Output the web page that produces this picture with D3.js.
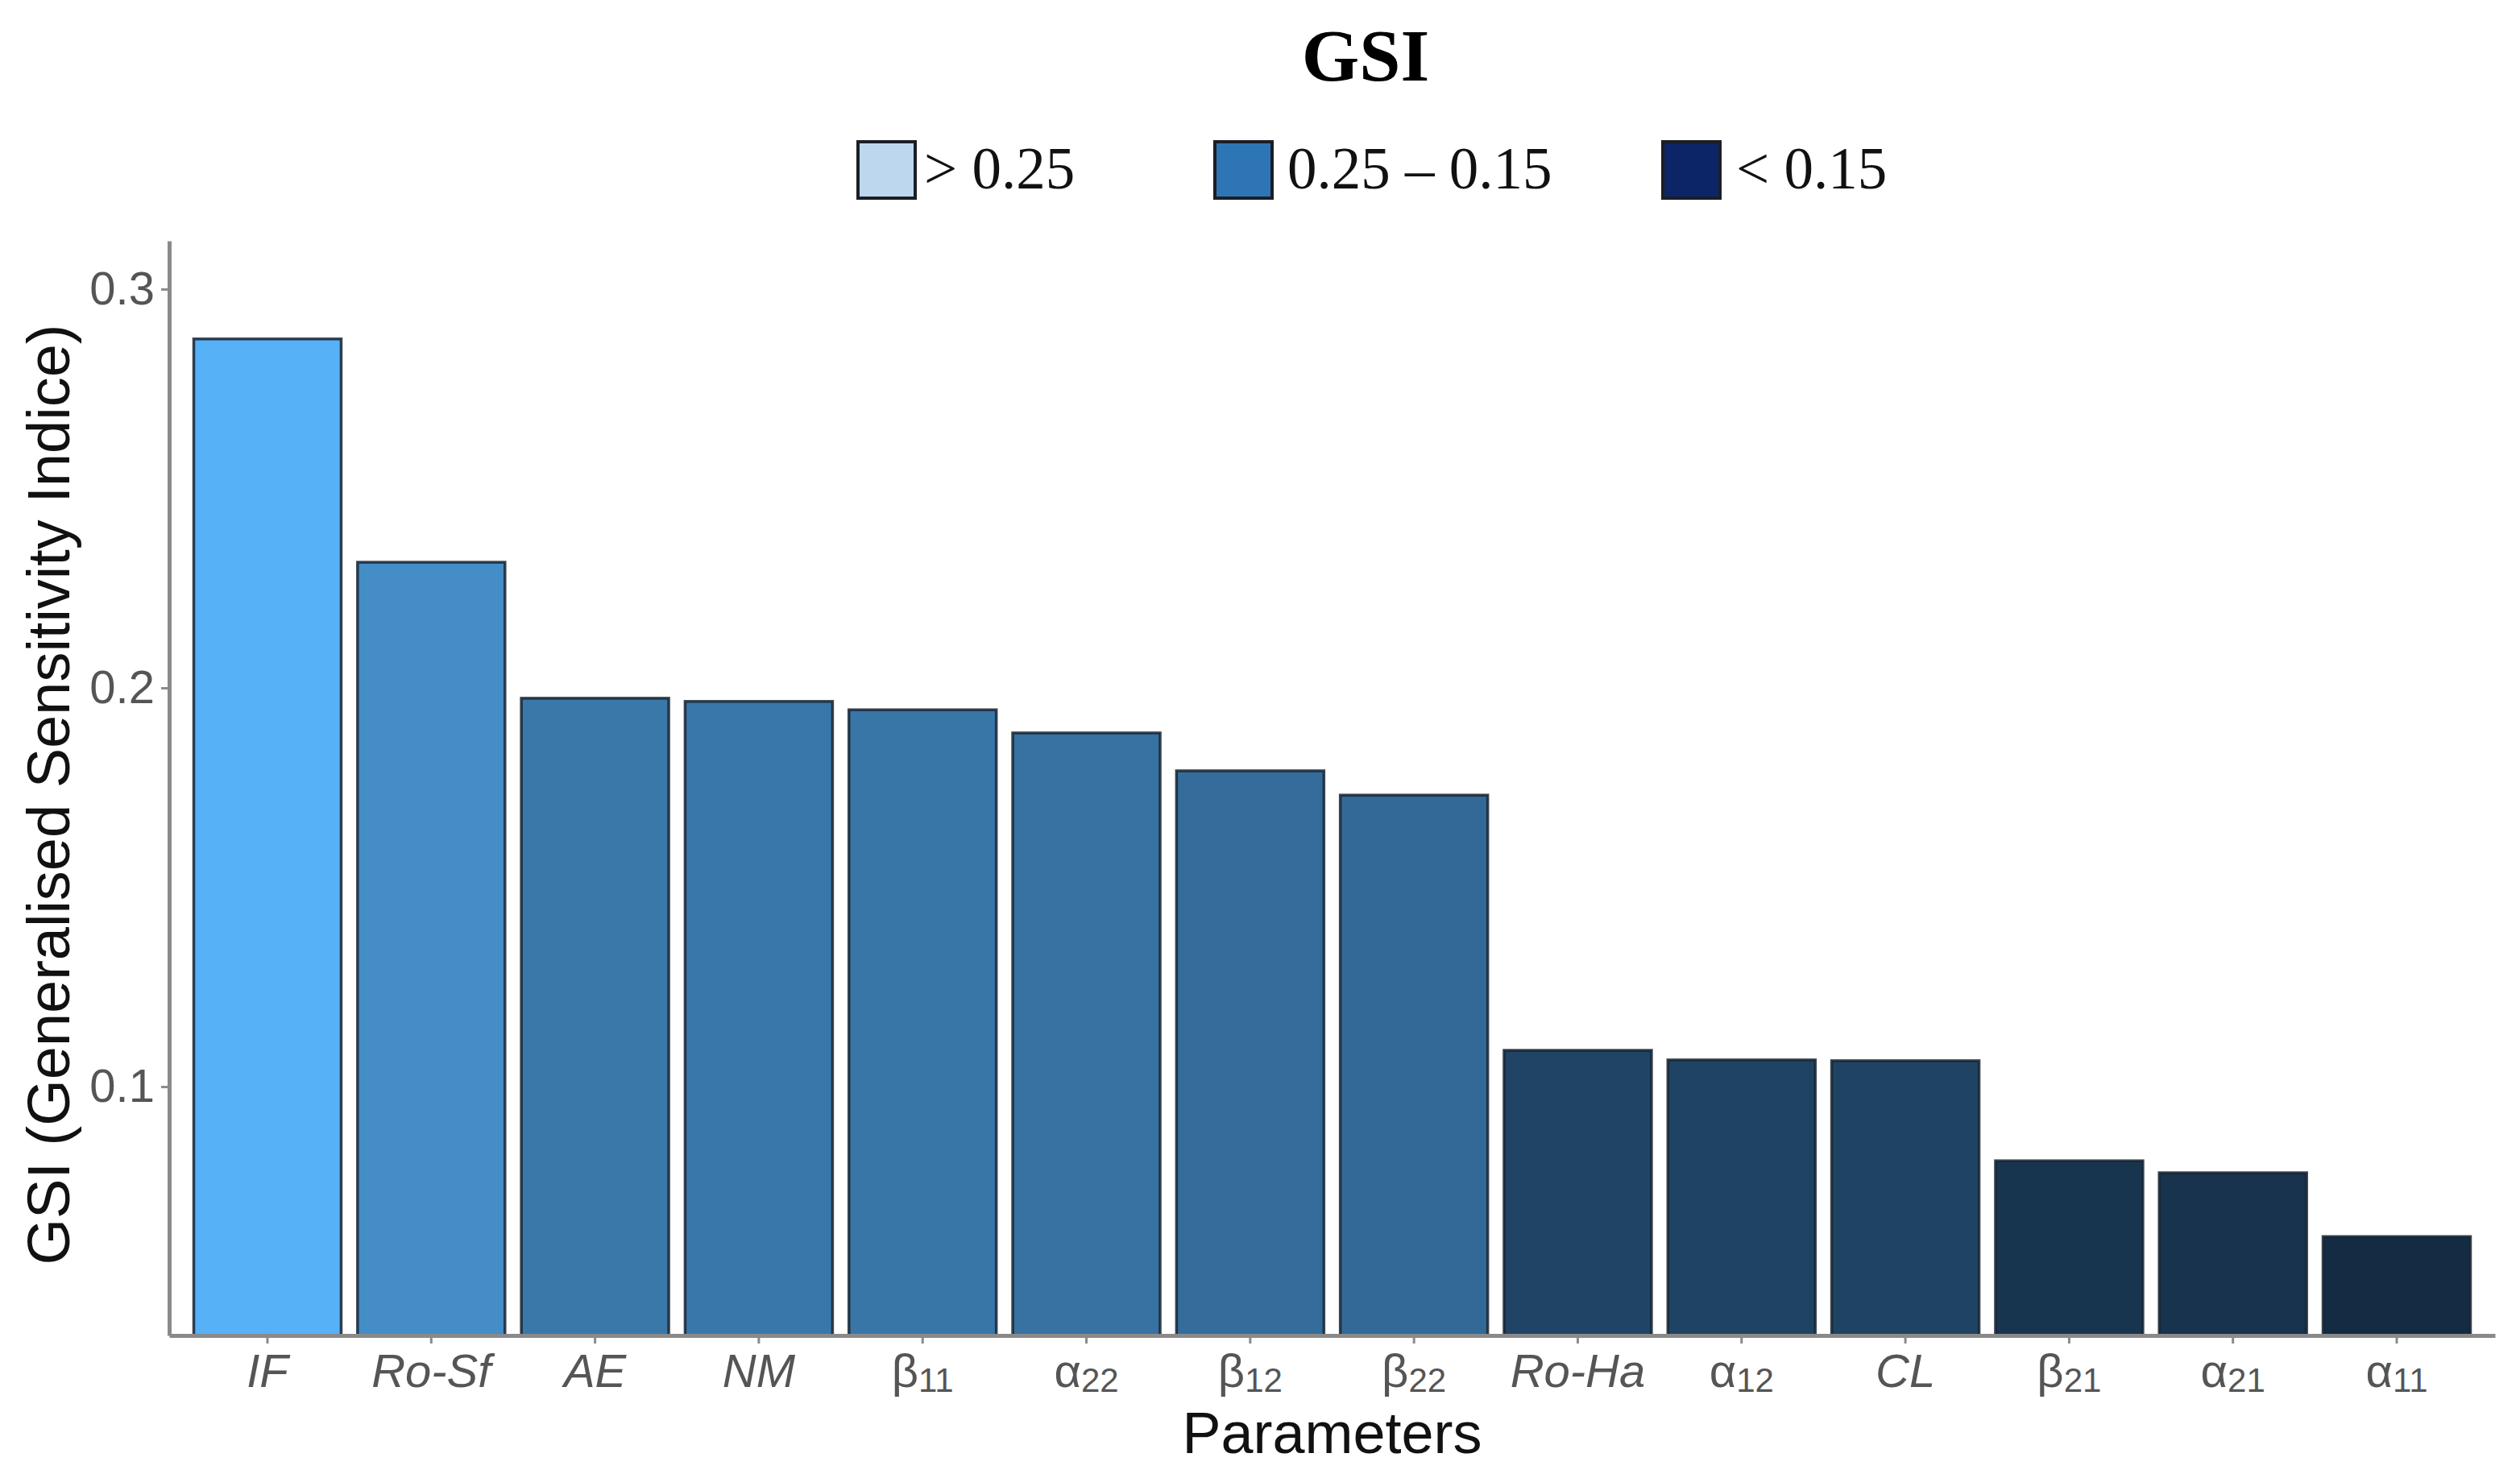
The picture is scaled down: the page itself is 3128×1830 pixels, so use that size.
<!DOCTYPE html>
<html>
<head>
<meta charset="utf-8">
<script src="https://cdn.jsdelivr.net/npm/d3@7"></script>
<style>
  html, body { margin: 0; padding: 0; background: #ffffff; }
  svg { display: block; }
</style>
</head>
<body>
<script>
// ---- data ----
const categories = ["IF", "Ro-Sf", "AE", "NM", "β_11", "α_22", "β_12", "β_22", "Ro-Ha", "α_12", "CL", "β_21", "α_21", "α_11"];
const values = [0.2875, 0.2315, 0.1974, 0.1966, 0.1945, 0.1887, 0.1792, 0.1731, 0.1091, 0.1067, 0.1065, 0.0814, 0.0784, 0.0624];
const yTicks = [0.1, 0.2, 0.3];
const legendLabels = ["> 0.25", "0.25 – 0.15", "< 0.15"];
const legendColors = ["#BDD7EE", "#2E75B6", "#0B2566"];
const titleText = "GSI";
const xTitle = "Parameters";
const yTitle = "GSI (Generalised Sensitivity Indice)";

// ---- layout ----
const W = 3128, H = 1830;
const plot = { left: 210, right: 3097, top: 299, bottom: 1658 };
const sans = "'Liberation Sans', Arial, sans-serif";
const serif = "'Liberation Serif', 'Times New Roman', serif";

const svg = d3.select("body").append("svg").attr("width", W).attr("height", H);

const x = d3.scaleBand().domain(categories).range([plot.left, plot.right])
  .paddingInner(0.1).paddingOuter(0.15);
const y = d3.scaleLinear().domain([0.0376, 0.3121]).range([plot.bottom, plot.top]);
const color = d3.scaleLinear().domain([d3.min(values), d3.max(values)])
  .range(["#132B43", "#56B1F7"]).interpolate(d3.interpolateLab);

// bars
svg.append("g").selectAll("rect").data(categories).join("rect")
  .attr("x", d => x(d))
  .attr("y", (d, i) => y(values[i]))
  .attr("width", x.bandwidth())
  .attr("height", (d, i) => plot.bottom - y(values[i]))
  .attr("fill", (d, i) => color(values[i]))
  .attr("stroke", "#172330")
  .attr("stroke-opacity", 0.85)
  .attr("stroke-width", 3.5);

// y axis
const yAxis = d3.axisLeft(y).tickValues(yTicks).tickFormat(d3.format(".1f"))
  .tickSizeInner(10).tickSizeOuter(0).tickPadding(8);
const gy = svg.append("g").attr("transform", `translate(${plot.left},0)`).call(yAxis);
gy.select(".domain").attr("stroke", "#8a8a8a").attr("stroke-width", 5);
gy.selectAll(".tick line").attr("stroke", "#8a8a8a").attr("stroke-width", 3);
gy.selectAll(".tick text").attr("font-family", sans).attr("font-size", 58).attr("fill", "#555555");

// x axis
const xAxis = d3.axisBottom(x).tickSizeInner(10).tickSizeOuter(0).tickPadding(12).tickFormat("");
const gx = svg.append("g").attr("transform", `translate(0,${plot.bottom})`).call(xAxis);
gx.select(".domain").attr("stroke", "#8a8a8a").attr("stroke-width", 5);
gx.selectAll(".tick line").attr("stroke", "#8a8a8a").attr("stroke-width", 3);

// x tick labels (with italic names and Greek subscripts)
const lbl = svg.append("g").selectAll("text").data(categories).join("text")
  .attr("x", d => x(d) + x.bandwidth() / 2)
  .attr("y", 1722)
  .attr("text-anchor", "middle")
  .attr("font-family", sans)
  .attr("font-size", 58)
  .attr("fill", "#555555");
lbl.each(function(d) {
  const t = d3.select(this);
  const parts = d.split("_");
  if (parts.length === 1) {
    t.attr("font-style", "italic").text(d);
  } else {
    t.append("tspan").text(parts[0]);
    t.append("tspan").attr("font-size", 42).attr("dy", 6).text(parts[1]);
  }
});

// axis titles
svg.append("text").attr("x", (plot.left + plot.right) / 2).attr("y", 1804)
  .attr("text-anchor", "middle").attr("font-family", sans).attr("font-size", 72)
  .attr("fill", "#111111").text(xTitle);
svg.append("text").attr("transform", `translate(86,${(plot.top + plot.bottom) / 2 + 8}) rotate(-90)`)
  .attr("text-anchor", "middle").attr("font-family", sans).attr("font-size", 74)
  .attr("fill", "#111111").text(yTitle);

// title
svg.append("text").attr("x", 1695).attr("y", 100).attr("text-anchor", "middle")
  .attr("font-family", serif).attr("font-weight", "bold").attr("font-size", 92)
  .attr("fill", "#000000").text(titleText);

// legend
const legendX = [1065, 1508, 2064];
const lg = svg.append("g").selectAll("g").data(legendLabels).join("g")
  .attr("transform", (d, i) => `translate(${legendX[i]},176)`);
lg.append("rect").attr("width", 71).attr("height", 70)
  .attr("fill", (d, i) => legendColors[i]).attr("stroke", "#1a1f26").attr("stroke-width", 4);
lg.append("text").attr("x", (d, i) => [82, 90, 91][i]).attr("y", 58)
  .attr("font-family", serif).attr("font-size", 73).attr("fill", "#111111")
  .text(d => d);
</script>
</body>
</html>
